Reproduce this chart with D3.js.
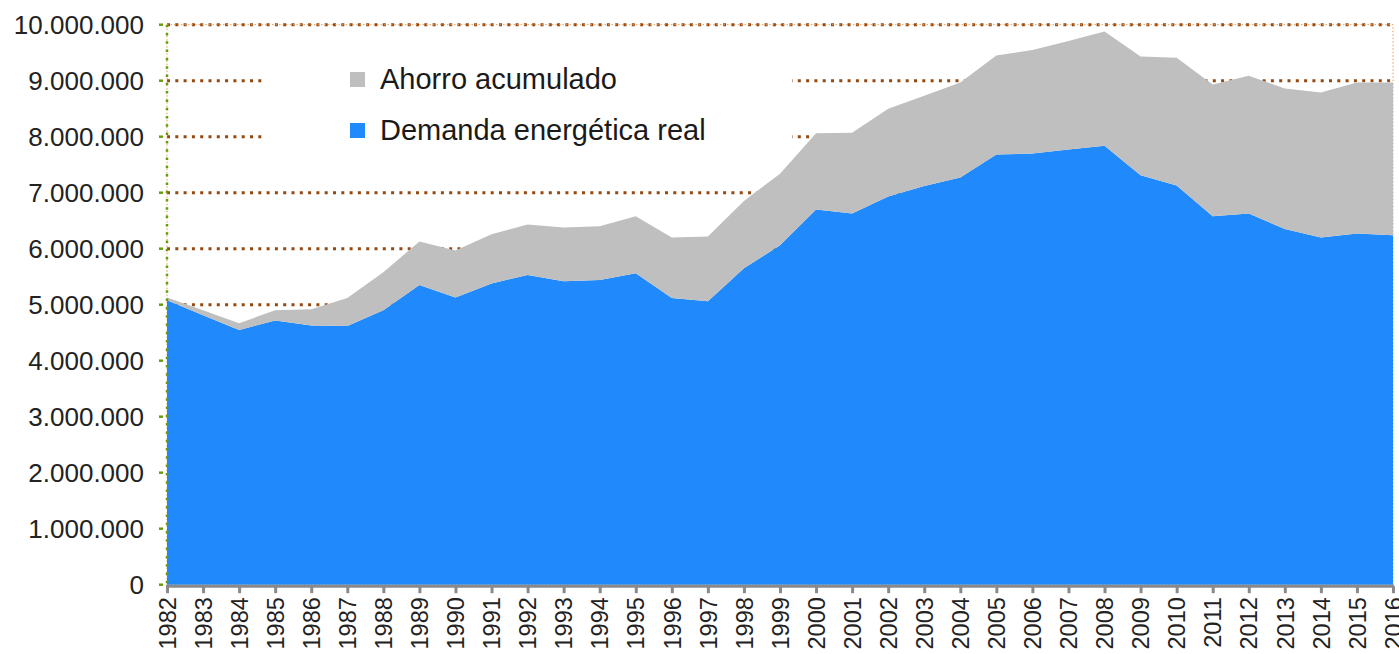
<!DOCTYPE html>
<html>
<head>
<meta charset="utf-8">
<script src="https://cdn.jsdelivr.net/npm/d3@7"></script>
<style>
  body { margin: 0; background: #fff; }
  svg { display: block; font-family: "Liberation Sans", Arial, sans-serif; }
</style>
</head>
<body>
<div id="chart"></div>
<script>
// Años del eje X.
const years = [1982, 1983, 1984, 1985, 1986, 1987, 1988, 1989, 1990, 1991,
  1992, 1993, 1994, 1995, 1996, 1997, 1998, 1999, 2000, 2001, 2002, 2003,
  2004, 2005, 2006, 2007, 2008, 2009, 2010, 2011, 2012, 2013, 2014, 2015, 2016];

// Demanda energética real (serie inferior, azul).
const demanda = [5080000, 4810000, 4550000, 4720000, 4630000, 4620000, 4900000,
  5350000, 5130000, 5380000, 5530000, 5420000, 5440000, 5560000, 5120000,
  5060000, 5650000, 6060000, 6700000, 6630000, 6930000, 7120000, 7270000,
  7680000, 7700000, 7770000, 7840000, 7310000, 7130000, 6580000, 6630000,
  6350000, 6200000, 6270000, 6240000];

// Ahorro acumulado (serie apilada, gris).
const ahorro = [50000, 90000, 120000, 180000, 290000, 500000, 680000, 780000,
  840000, 880000, 900000, 960000, 960000, 1020000, 1080000, 1160000, 1200000,
  1280000, 1360000, 1440000, 1570000, 1610000, 1700000, 1770000, 1850000,
  1940000, 2040000, 2120000, 2280000, 2350000, 2460000, 2510000, 2590000,
  2700000, 2730000];

const yTicks = [0, 1000000, 2000000, 3000000, 4000000, 5000000, 6000000,
  7000000, 8000000, 9000000, 10000000];

const seriesNames = ["Demanda energética real", "Ahorro acumulado"];
const seriesColors = ["#2089fb", "#bfbfbf"];

// Dimensions.
const width = 1399;
const height = 654;
const plot = { left: 167, right: 1393, top: 24.7, bottom: 584.7 };

const esLocale = d3.formatLocale({ decimal: ",", thousands: ".", grouping: [3], currency: ["", "€"] });
const fmt = esLocale.format(",d");

const svg = d3.select("#chart")
  .append("svg")
    .attr("width", width)
    .attr("height", height);

const x = d3.scaleLinear()
  .domain([years[0], years[years.length - 1]])
  .range([plot.left, plot.right]);

const y = d3.scaleLinear()
  .domain([0, 10000000])
  .range([plot.bottom, plot.top]);

// Gridlines (behind everything).
svg.append("g")
  .selectAll("line")
  .data(yTicks.filter(d => d > 0))
  .enter()
  .append("line")
    .attr("x1", plot.left)
    .attr("x2", plot.right)
    .attr("y1", d => y(d))
    .attr("y2", d => y(d))
    .attr("stroke", "#96490f")
    .attr("stroke-width", 3)
    .attr("stroke-dasharray", "3,5.3");

// Plot area border, thin orange dots.
svg.append("rect")
  .attr("x", plot.left)
  .attr("y", plot.top)
  .attr("width", plot.right - plot.left)
  .attr("height", plot.bottom - plot.top)
  .attr("fill", "none")
  .attr("stroke", "#e89a5a")
  .attr("stroke-width", 1)
  .attr("stroke-dasharray", "1.5,2");

// White legend box hides part of the gridlines.
svg.append("rect")
  .attr("x", 263)
  .attr("y", 55)
  .attr("width", 529)
  .attr("height", 105)
  .attr("fill", "#fff");

// Stacked areas.
const table = years.map((yr, i) => ({ year: yr, demanda: demanda[i], ahorro: ahorro[i] }));
const stacked = d3.stack().keys(["demanda", "ahorro"])(table);

const area = d3.area()
  .x(d => x(d.data.year))
  .y0(d => y(d[0]))
  .y1(d => y(d[1]));

svg.append("g")
  .selectAll("path")
  .data(stacked)
  .enter()
  .append("path")
    .attr("d", area)
    .attr("fill", (d, i) => seriesColors[i]);

// Y axis: green dotted line with small ticks.
svg.append("line")
  .attr("x1", plot.left)
  .attr("x2", plot.left)
  .attr("y1", plot.top)
  .attr("y2", plot.bottom + 1)
  .attr("stroke", "#6a9c0a")
  .attr("stroke-width", 2.5)
  .attr("stroke-dasharray", "2.5,5.8");

const yAxis = svg.append("g");
yAxis.selectAll("line")
  .data(yTicks)
  .enter()
  .append("line")
    .attr("x1", 159)
    .attr("x2", 163)
    .attr("y1", d => y(d))
    .attr("y2", d => y(d))
    .attr("stroke", "#6a9c0a")
    .attr("stroke-width", 2.5);

yAxis.selectAll("text")
  .data(yTicks)
  .enter()
  .append("text")
    .attr("x", 144)
    .attr("y", d => y(d))
    .attr("dy", "0.35em")
    .attr("text-anchor", "end")
    .attr("font-size", 26)
    .attr("fill", "#222")
    .text(d => fmt(d));

// X axis: gray line with ticks and rotated year labels.
const xAxis = svg.append("g")
  .attr("transform", `translate(0,${plot.bottom + 1.5})`)
  .call(d3.axisBottom(x)
    .tickValues(years)
    .tickFormat(d3.format("d"))
    .tickSize(7)
    .tickPadding(6));

xAxis.select(".domain")
  .attr("stroke", "#8a8a8a")
  .attr("stroke-width", 3)
  .attr("d", `M${plot.left - 1},0H${plot.right + 1}`);

xAxis.selectAll(".tick line")
  .attr("stroke", "#8a8a8a")
  .attr("stroke-width", 3);

xAxis.selectAll(".tick text")
  .attr("font-size", 23.5)
  .attr("font-family", "Liberation Sans, Arial, sans-serif")
  .attr("fill", "#222")
  .attr("text-anchor", "end")
  .attr("transform", "rotate(-90)")
  .attr("x", -11)
  .attr("y", 0)
  .attr("dy", "0.35em");

// Legend.
const legend = svg.append("g");
const legendItems = [
  { name: seriesNames[1], color: seriesColors[1], cy: 79.5 },
  { name: seriesNames[0], color: seriesColors[0], cy: 130.5 },
];
legend.selectAll("rect")
  .data(legendItems)
  .enter()
  .append("rect")
    .attr("x", 350)
    .attr("y", d => d.cy - 7.5)
    .attr("width", 15)
    .attr("height", 15)
    .attr("fill", d => d.color);

legend.selectAll("text")
  .data(legendItems)
  .enter()
  .append("text")
    .attr("x", 380)
    .attr("y", d => d.cy + 9.5)
    .attr("font-size", 29)
    .attr("fill", "#1a1a1a")
    .text(d => d.name);
</script>
</body>
</html>
